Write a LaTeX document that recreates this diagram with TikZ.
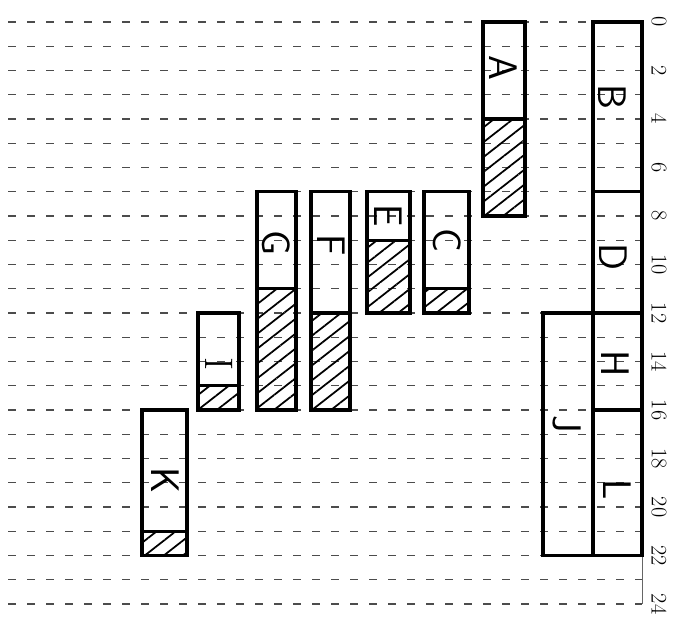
\documentclass[tikz,border=0pt]{standalone}
\usepackage{fontspec}
\usepackage{tikz}
\usetikzlibrary{patterns.meta}

\tikzset{
  gridline/.style={draw=black!70, line width=1.2pt, dash pattern=on 2.3mm off 3.4mm},
  barbox/.style={draw=black, line width=2.6pt},
  hatched/.style={pattern={Lines[angle=38, distance=10pt, line width=1.5pt]}},
  barlabel/.style={rotate=-90, font=\fontsize{34}{36}\sffamily},
  ticklabel/.style={rotate=-90, font=\fontsize{19}{21}\selectfont}
}

\begin{document}
\begin{tikzpicture}[x=0.3mm, y=-7.275mm]
        \useasboundingbox (0,-0.907) rectangle (674,24.825);

        % dashed grid, one line per unit
        \foreach \v in {0,...,24}
            \draw[gridline] (8,\v) -- (642,\v);
        \draw[black!60, line width=0.7pt] (642,0) -- (642,24);
        \foreach \v in {0,2,...,24}
            \node (t\v) at (659,\v) [ticklabel] {\v};

        % hatched parts
        \fill[hatched] (483,4)  rectangle (525,8);
        \fill[hatched] (424,11) rectangle (469,12);
        \fill[hatched] (367,9)  rectangle (410,12);
        \fill[hatched] (311,12) rectangle (350,16);
        \fill[hatched] (257,11) rectangle (296,16);
        \fill[hatched] (198,15) rectangle (239,16);
        \fill[hatched] (142,21) rectangle (187,22);

        % bars
        \draw[barbox] (483,0)  rectangle (525,8);  \draw[barbox] (483,4)  -- (525,4);
        \draw[barbox] (593,0)  rectangle (642,7);
        \draw[barbox] (593,7)  rectangle (642,12);
        \draw[barbox] (593,12) rectangle (642,16);
        \draw[barbox] (593,16) rectangle (642,22);
        \draw[barbox] (543,12) rectangle (593,22);
        \draw[barbox] (424,7)  rectangle (469,12); \draw[barbox] (424,11) -- (469,11);
        \draw[barbox] (367,7)  rectangle (410,12); \draw[barbox] (367,9)  -- (410,9);
        \draw[barbox] (311,7)  rectangle (350,16); \draw[barbox] (311,12) -- (350,12);
        \draw[barbox] (257,7)  rectangle (296,16); \draw[barbox] (257,11) -- (296,11);
        \draw[barbox] (198,12) rectangle (239,16); \draw[barbox] (198,15) -- (239,15);
        \draw[barbox] (142,16) rectangle (187,22); \draw[barbox] (142,21) -- (187,21);

        % labels
        \node (a) at (503,1.9)  [barlabel] {A};
        \node (b) at (612,3.1)  [barlabel] {B};
        \node (d) at (613,9.7)  [barlabel] {D};
        \node (h) at (615,14.1) [barlabel] {H};
        \node (l) at (617,19.3) [barlabel] {L};
        \node (j) at (567,16.6) [barlabel] {J};
        \node (c) at (447,9.0)  [barlabel] {C};
        \node (e) at (388,8.0)  [barlabel] {E};
        \node (g) at (276,9.1)  [barlabel] {G};
        \node (f) at (331,9.2)  [barlabel] {F};
        \node (i) at (219,14.1) [barlabel, font=\fontsize{34}{36}\rmfamily] {I};
        \node (k) at (165,18.9) [barlabel] {K};
    \end{tikzpicture}
\end{document}
